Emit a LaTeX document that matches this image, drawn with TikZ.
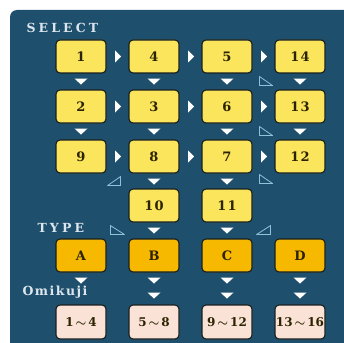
\documentclass[tikz,border=0pt]{standalone}
\usepackage{amsmath}
\usepackage{fontspec}
\setmainfont{DejaVu Serif}
\usetikzlibrary{calc}
\definecolor{panelbg}{HTML}{1E4F6C}
\definecolor{selfill}{HTML}{FAE55C}
\definecolor{typefill}{HTML}{F6B900}
\definecolor{lotfill}{HTML}{FAE2D6}
\definecolor{boxedge}{HTML}{1A1F1F}
\definecolor{boxtext}{HTML}{2B2200}
\definecolor{labeltext}{HTML}{DCE6EE}
\definecolor{hintedge}{HTML}{8EC3DA}

% white step markers, placed from node names
\newcommand{\downtri}[1]{\fill[white] ($(#1)+(-6.5,5)$) -- ++(13,0) -- ++(-6.5,6) -- cycle;}
\newcommand{\righttri}[2]{\fill[white] ($(#1.east)!0.5!(#2.west)+(-2.5,-6)$) -- ++(6,6) -- ++(-6,6) -- cycle;}

\begin{document}
\begin{tikzpicture}[
    x=1pt, y=-1pt,
    every node/.style={font=\bfseries\fontsize{13}{15}\selectfont\addfontfeature{LetterSpace=8}},
    cell/.style={
        rectangle, rounded corners=4pt, draw=boxedge, line width=1.1pt,
        minimum width=50pt, minimum height=33pt, inner sep=0pt,
        text=boxtext
    },
    selbox/.style={cell, fill=selfill},
    typebox/.style={cell, fill=typefill},
    lotbox/.style={cell, fill=lotfill, minimum height=34pt,
        font=\bfseries\fontsize{12}{14}\selectfont},
    rowlabel/.style={anchor=base west, text=labeltext,
        font=\bfseries\fontsize{12.5}{14}\selectfont\addfontfeature{LetterSpace=25}},
    hint/.style={draw=hintedge, line width=0.8pt, line join=round},
]

\useasboundingbox (0,0) rectangle (344,342);

%% ============ PANEL ============
\begin{scope}
    \clip (0,0) rectangle (344,342);
    \fill[panelbg, rounded corners=7pt] (10,10) rectangle (360,360);
\end{scope}

%% columns: 81 / 154 / 227 / 300

%% ============ SELECT ============
\node[rowlabel] (lsel) at (23,33) {SELECT};

\node[selbox] (s1)  at (81,56.5)  {1};
\node[selbox] (s4)  at (154,56.5) {4};
\node[selbox] (s5)  at (227,56.5) {5};
\node[selbox] (s14) at (300,56.5) {14};

\node[selbox] (s2)  at (81,106.5)  {2};
\node[selbox] (s3)  at (154,106.5) {3};
\node[selbox] (s6)  at (227,106.5) {6};
\node[selbox] (s13) at (300,106.5) {13};

\node[selbox] (s9)  at (81,156.5)  {9};
\node[selbox] (s8)  at (154,156.5) {8};
\node[selbox] (s7)  at (227,156.5) {7};
\node[selbox] (s12) at (300,156.5) {12};

\node[selbox] (s10) at (154,205.5) {10};
\node[selbox] (s11) at (227,205.5) {11};

%% ============ TYPE ============
\node[rowlabel] (ltype) at (34,232) {TYPE};

\node[typebox] (ta) at (81,255.5)  {A};
\node[typebox] (tb) at (154,255.5) {B};
\node[typebox] (tc) at (227,255.5) {C};
\node[typebox] (td) at (300,255.5) {D};

%% ============ OMIKUJI ============
\node[rowlabel, font=\bfseries\fontsize{12.5}{14}\selectfont\addfontfeature{LetterSpace=12}] (lomi) at (19,295) {Omikuji};

\node[lotbox] (o1) at (81,322)  {1\,$\boldsymbol{\sim}$\,4};
\node[lotbox] (o2) at (154,322) {5\,$\boldsymbol{\sim}$\,8};
\node[lotbox] (o3) at (227,322) {9\,$\boldsymbol{\sim}$\,12};
\node[lotbox] (o4) at (300,322) {13\,$\boldsymbol{\sim}$\,16};

%% ============ RIGHT MARKERS ============
\righttri{s1}{s4} \righttri{s4}{s5} \righttri{s5}{s14}
\righttri{s2}{s3} \righttri{s3}{s6} \righttri{s6}{s13}
\righttri{s9}{s8} \righttri{s8}{s7} \righttri{s7}{s12}

%% ============ DOWN MARKERS ============
\downtri{s1.south} \downtri{s4.south} \downtri{s5.south} \downtri{s14.south}
\downtri{s2.south} \downtri{s3.south} \downtri{s6.south} \downtri{s13.south}
\downtri{s8.south} \downtri{s7.south}
\downtri{s10.south} \downtri{s11.south}
\downtri{ta.south} \downtri{tb.south} \downtri{tc.south} \downtri{td.south}
% second marker above the omikuji boxes
\downtri{$(tb.south)+(0,15)$} \downtri{$(tc.south)+(0,15)$} \downtri{$(td.south)+(0,15)$}

%% ============ OUTLINE HINTS ============
% right angle lower left
\draw[hint] ($(s5.south east)+(7,3)$) -- ++(0,9) -- ++(13,0) -- cycle;
\draw[hint] ($(s6.south east)+(7,3)$) -- ++(0,9) -- ++(13,0) -- cycle;
\draw[hint] ($(s7.south east)+(7,1)$) -- ++(0,9) -- ++(13,0) -- cycle;
\draw[hint] ($(s10.south west)+(-18,3)$) -- ++(0,9) -- ++(14,0) -- cycle;
% right angle lower right
\draw[hint] ($(s9.south east)+(14,3)$) -- ++(0,9) -- ++(-13,0) -- cycle;
\draw[hint] ($(s11.south east)+(18,3)$) -- ++(0,9) -- ++(-14,0) -- cycle;

\end{tikzpicture}
\end{document}
